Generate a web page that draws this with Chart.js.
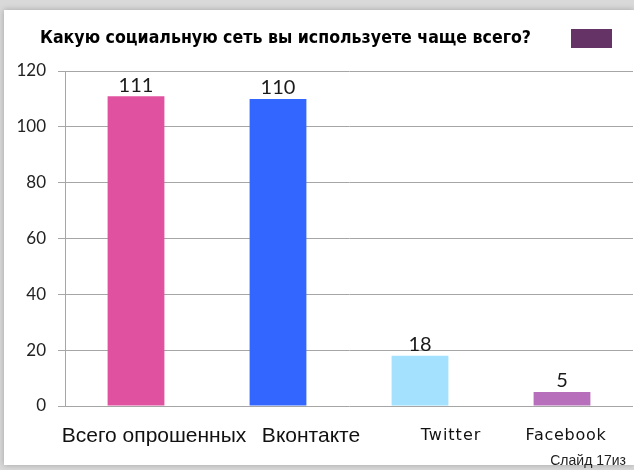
<!DOCTYPE html>
<html>
<head>
<meta charset="utf-8">
<script src="https://cdn.jsdelivr.net/npm/chart.js@4"></script>
<style>
  html, body { margin: 0; padding: 0; background: #d9d9d9; }
  #slide {
    position: absolute; left: 4px; top: 10px; width: 630px; height: 455px;
    background: #fff; box-shadow: 0 0 6px rgba(0,0,0,0.25);
  }
  #wrap { position: absolute; left: 0; top: 0; width: 634px; height: 470px; }
</style>
</head>
<body>
<div id="slide"></div>
<div id="wrap"><canvas id="chart" width="634" height="470"></canvas></div>
<script>
// ===========================
// Data
// ===========================
const categories = ["Всего опрошенных", "Вконтакте", "Twitter", "Facebook"];
const answers = [111, 110, 18, 5];
const barColors = ["#e0529f", "#3366ff", "#a3e1ff", "#b86fbb"];
const yTicks = [0, 20, 40, 60, 80, 100, 120];
const chartTitle = "Какую социальную сеть вы используете чаще всего?";
const footer = "Слайд 17из";

// ===========================
// Plugins (title, legend box, labels)
// ===========================
const extrasPlugin = {
    id: "extras",
    afterDatasetsDraw(chart) {
        const ctx = chart.ctx;
        const x = chart.scales.x, y = chart.scales.y;
        ctx.save();

        // value labels above bars
        ctx.fillStyle = "#1a1a1a";
        ctx.font = "20px Lato";
        ctx.textAlign = "center";
        ctx.textBaseline = "bottom";
        answers.forEach((v, i) => {
            ctx.fillText(String(v), x.getPixelForValue(i), y.getPixelForValue(v) - 1);
        });

        // category labels (slightly shifted like the original slide)
        const shift = [18, 33, 31, 4];
        const fonts = ["21px 'Liberation Sans'", "21px 'Liberation Sans'", "16px 'DejaVu Sans'", "16px 'DejaVu Sans'"];
        const spacing = ["0px", "0px", "1px", "0.7px"];
        ctx.fillStyle = "#111";
        ctx.textBaseline = "middle";
        categories.forEach((c, i) => {
            ctx.font = fonts[i];
            ctx.letterSpacing = spacing[i];
            ctx.fillText(c, x.getPixelForValue(i) + shift[i], 436);
        });
        ctx.letterSpacing = "0px";

        // title
        ctx.font = "bold 17.6px 'DejaVu Sans Condensed'";
        ctx.textAlign = "left";
        ctx.fillStyle = "#000";
        ctx.fillText(chartTitle, 40, 38);

        // legend box
        ctx.fillStyle = "#663366";
        ctx.fillRect(571, 29, 41, 19);

        // footer
        ctx.font = "14px 'Liberation Sans'";
        ctx.fillStyle = "#222";
        ctx.textAlign = "right";
        ctx.fillText(footer, 626, 461);
        ctx.restore();
    }
};

// ===========================
// Chart
// ===========================
const ctx = document.getElementById("chart").getContext("2d");
new Chart(ctx, {
    type: "bar",
    data: {
        labels: categories,
        datasets: [{ data: answers, backgroundColor: barColors, barPercentage: 0.4, categoryPercentage: 1 }]
    },
    options: {
        responsive: false,
        animation: false,
        layout: { padding: { top: 71, right: 1, left: 0, bottom: 0 } },
        plugins: { legend: { display: false }, tooltip: { enabled: false } },
        scales: {
            x: {
                ticks: { display: false },
                grid: { display: false },
                border: { display: false },
                afterFit: s => { s.height = 64; }
            },
            y: {
                min: 0, max: 120,
                afterBuildTicks: s => { s.ticks = yTicks.map(v => ({ value: v })); },
                ticks: { font: { family: "Lato", size: 17 }, color: "#222", padding: 12 },
                grid: { color: "#a6a6a6", tickLength: 7 },
                border: { color: "#a6a6a6" },
                afterFit: s => { s.width = 65; }
            }
        }
    },
    plugins: [extrasPlugin]
});
</script>
</body>
</html>
